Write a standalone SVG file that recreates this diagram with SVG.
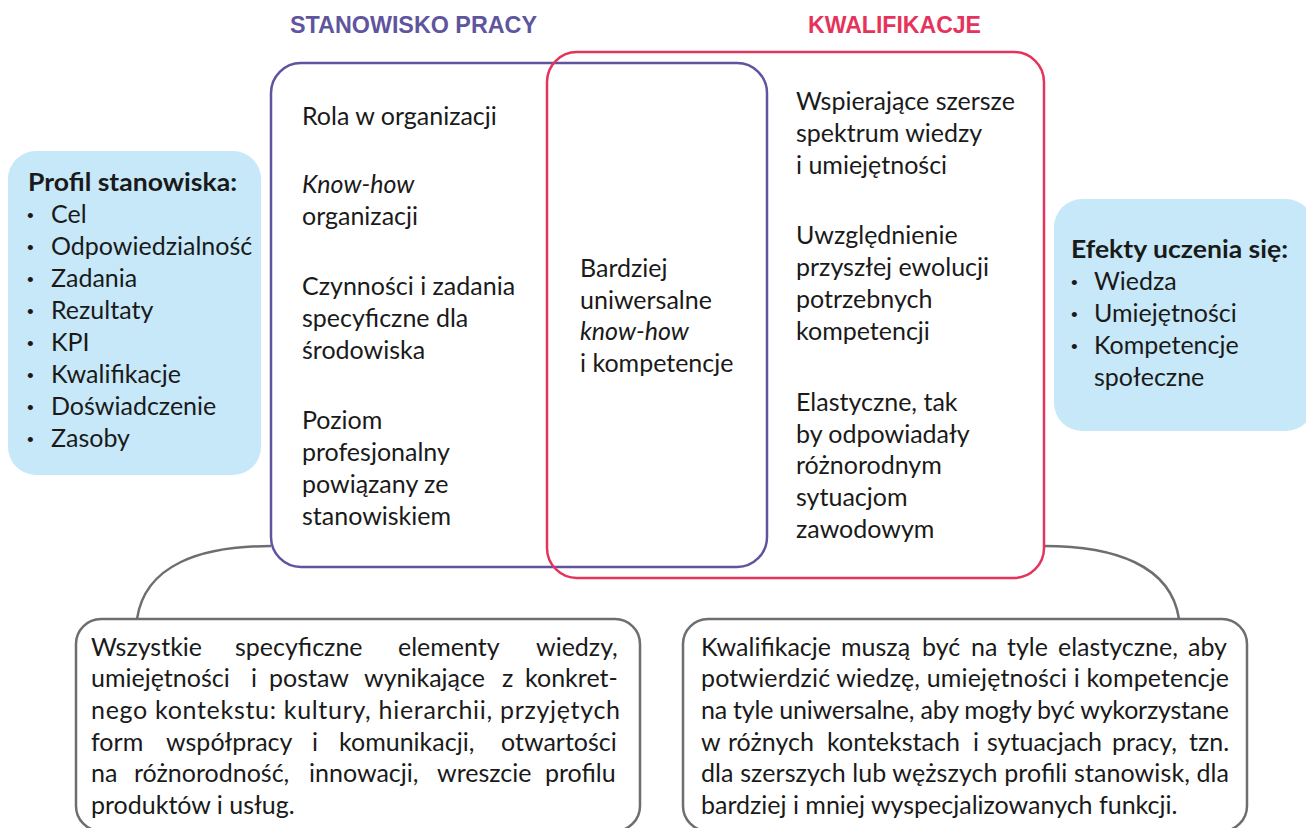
<svg xmlns="http://www.w3.org/2000/svg" width="1306" height="828" viewBox="0 0 1306 828">
<style>
  .t { font-family: "Lato", "Open Sans", "Liberation Sans", sans-serif; font-size: 25px; fill: #1a1a1a; }
  .b { font-weight: bold; }
  .i { font-style: italic; }
  .bul { font-family: "Liberation Sans", sans-serif; font-size: 19px; fill: #1a1a1a; }
  .title { font-family: "Liberation Sans", "Arial", sans-serif; font-weight: bold; font-size: 24px; }
  .blue { fill: #c6e8f8; stroke: none; }
  .note { fill: #ffffff; stroke: #6d6e71; stroke-width: 2.5; }
  .conn { fill: none; stroke: #6d6e71; stroke-width: 2.5; }
</style>
<rect width="1306" height="828" fill="#ffffff"/>

<g id="connectors">
  <path class="conn" d="M271,546 C200,546 145,565 137,619"/>
  <path class="conn" d="M1044,546 C1114,546 1171,565 1179,619"/>
</g>

<g id="stanowisko">
  <rect x="271" y="63" width="496" height="504" rx="30" fill="none" stroke="#5f559e" stroke-width="2.5"/>
  <text class="title" x="290" y="33" fill="#5f559e" textLength="247" lengthAdjust="spacingAndGlyphs">STANOWISKO PRACY</text>
  <text class="t" x="302" y="125">Rola w organizacji</text>
  <text class="t" x="302" y="193"><tspan class="i">Know-how</tspan></text>
  <text class="t" x="302" y="225">organizacji</text>
  <text class="t" x="302" y="295">Czynności i zadania</text>
  <text class="t" x="302" y="327">specyficzne dla</text>
  <text class="t" x="302" y="359">środowiska</text>
  <text class="t" x="302" y="429">Poziom</text>
  <text class="t" x="302" y="461">profesjonalny</text>
  <text class="t" x="302" y="493">powiązany ze</text>
  <text class="t" x="302" y="525">stanowiskiem</text>
</g>

<g id="kwalifikacje">
  <rect x="547" y="52" width="497" height="526" rx="30" fill="none" stroke="#e6335b" stroke-width="2.5"/>
  <text class="title" x="808" y="33" fill="#e6335b" textLength="173" lengthAdjust="spacingAndGlyphs">KWALIFIKACJE</text>
  <text class="t" x="796" y="110">Wspierające szersze</text>
  <text class="t" x="796" y="142">spektrum wiedzy</text>
  <text class="t" x="796" y="174">i umiejętności</text>
  <text class="t" x="796" y="244">Uwzględnienie</text>
  <text class="t" x="796" y="276">przyszłej ewolucji</text>
  <text class="t" x="796" y="308">potrzebnych</text>
  <text class="t" x="796" y="340">kompetencji</text>
  <text class="t" x="796" y="411">Elastyczne, tak</text>
  <text class="t" x="796" y="443">by odpowiadały</text>
  <text class="t" x="796" y="474">różnorodnym</text>
  <text class="t" x="796" y="506">sytuacjom</text>
  <text class="t" x="796" y="538">zawodowym</text>
</g>

<g id="wspolne">
  <text class="t" x="580" y="277">Bardziej</text>
  <text class="t" x="580" y="309">uniwersalne</text>
  <text class="t i" x="580" y="340">know-how</text>
  <text class="t" x="580" y="372">i kompetencje</text>
</g>

<g id="profil">
  <rect class="blue" x="8" y="151" width="253" height="324" rx="28"/>
  <text class="t b" x="28" y="191" textLength="209" lengthAdjust="spacingAndGlyphs">Profil stanowiska:</text>
  <g class="bul">
    <text x="27" y="222">•</text>
    <text x="27" y="254">•</text>
    <text x="27" y="286">•</text>
    <text x="27" y="318">•</text>
    <text x="27" y="350">•</text>
    <text x="27" y="382">•</text>
    <text x="27" y="414">•</text>
    <text x="27" y="446">•</text>
  </g>
  <g class="t">
    <text x="51" y="223">Cel</text>
    <text x="51" y="255">Odpowiedzialność</text>
    <text x="51" y="287">Zadania</text>
    <text x="51" y="319">Rezultaty</text>
    <text x="51" y="351">KPI</text>
    <text x="51" y="383">Kwalifikacje</text>
    <text x="51" y="415">Doświadczenie</text>
    <text x="51" y="447">Zasoby</text>
  </g>
</g>

<g id="efekty">
  <rect class="blue" x="1054" y="199" width="260" height="232" rx="28"/>
  <text class="t b" x="1071" y="258" textLength="217" lengthAdjust="spacingAndGlyphs">Efekty uczenia się:</text>
  <g class="bul">
    <text x="1071" y="289">•</text>
    <text x="1071" y="321">•</text>
    <text x="1071" y="353">•</text>
  </g>
  <g class="t">
    <text x="1094" y="290">Wiedza</text>
    <text x="1094" y="322">Umiejętności</text>
    <text x="1094" y="354">Kompetencje</text>
    <text x="1094" y="386">społeczne</text>
  </g>
</g>

<g id="opis-stanowisko">
  <rect class="note" x="76" y="619" width="564" height="212" rx="25"/>
  <g class="t">
    <text y="656"><tspan x="91">Wszystkie</tspan><tspan x="235">specyficzne</tspan><tspan x="398">elementy</tspan><tspan x="536">wiedzy,</tspan></text>
    <text y="687"><tspan x="91">umiejętności</tspan><tspan x="251">i</tspan><tspan x="269">postaw</tspan><tspan x="364">wynikające</tspan><tspan x="502">z</tspan><tspan x="525">konkret-</tspan></text>
    <text x="91" y="719" textLength="529" lengthAdjust="spacing">nego kontekstu: kultury, hierarchii, przyjętych</text>
    <text y="751"><tspan x="91">form</tspan><tspan x="166">współpracy</tspan><tspan x="312">i</tspan><tspan x="339">komunikacji,</tspan><tspan x="501">otwartości</tspan></text>
    <text y="782"><tspan x="91">na</tspan><tspan x="134">różnorodność,</tspan><tspan x="309">innowacji,</tspan><tspan x="437">wreszcie</tspan><tspan x="545">profilu</tspan></text>
    <text x="91" y="814">produktów i usług.</text>
  </g>
</g>

<g id="opis-kwalifikacje">
  <rect class="note" x="683" y="619" width="564" height="212" rx="25"/>
  <g class="t">
    <text y="656"><tspan x="701">Kwalifikacje</tspan><tspan x="841">muszą</tspan><tspan x="922">być</tspan><tspan x="971">na</tspan><tspan x="1007">tyle</tspan><tspan x="1058">elastyczne,</tspan><tspan x="1188">aby</tspan></text>
    <text x="701" y="687" textLength="528" lengthAdjust="spacing">potwierdzić wiedzę, umiejętności i kompetencje</text>
    <text x="701" y="719" textLength="528" lengthAdjust="spacing">na tyle uniwersalne, aby mogły być wykorzystane</text>
    <text y="751"><tspan x="701">w</tspan><tspan x="728">różnych</tspan><tspan x="827">kontekstach</tspan><tspan x="973">i</tspan><tspan x="987">sytuacjach</tspan><tspan x="1112">pracy,</tspan><tspan x="1189">tzn.</tspan></text>
    <text x="701" y="782" textLength="528" lengthAdjust="spacing">dla szerszych lub węższych profili stanowisk, dla</text>
    <text x="701" y="814">bardziej i mniej wyspecjalizowanych funkcji.</text>
  </g>
</g>
</svg>
